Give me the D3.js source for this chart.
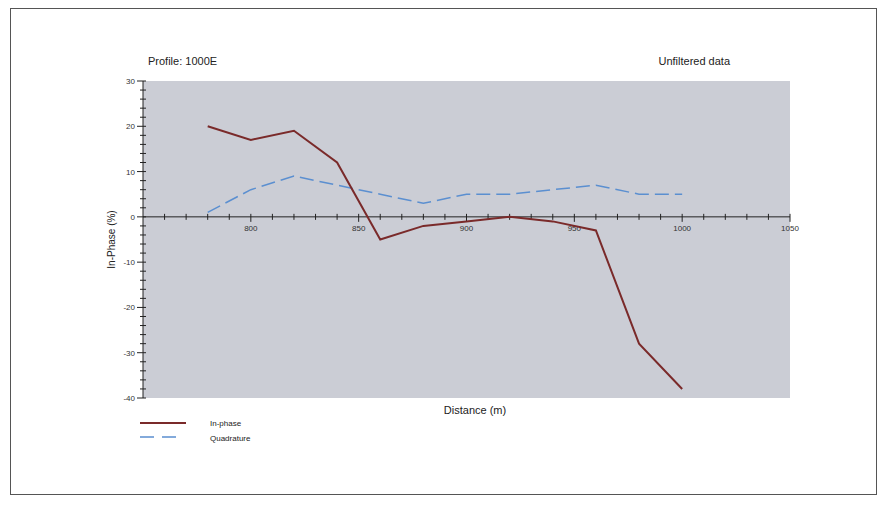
<!DOCTYPE html><html><head><meta charset="utf-8"><script src="https://cdn.jsdelivr.net/npm/d3@7"></script>
<style>body{margin:0;background:#fff;font-family:Arial,"Liberation Sans",sans-serif}</style></head><body><svg id="c" width="886" height="512"></svg>
<script>
const distance=[780,800,820,840,860,880,900,920,940,960,980,1000];
const inPhase=[20,17,19,12,-5,-2,-1,0,-1,-3,-28,-38];
const quadrature=[1,6,9,7,5,3,5,5,6,7,5,5];
const xTicks=[800,850,900,950,1000,1050];
const yTicks=[-40,-30,-20,-10,0,10,20,30];
const svg=d3.select("#c");
svg.append("rect").attr("x",10.5).attr("y",8.5).attr("width",866).attr("height",486).attr("fill","#fff").attr("stroke","#555");
const x=d3.scaleLinear().domain([750,1050]).range([143,790]);
const y=d3.scaleLinear().domain([-40,30]).range([398,81]);
svg.append("rect").attr("x",x(750)).attr("y",y(30)).attr("width",x(1050)-x(750)).attr("height",y(-40)-y(30)).attr("fill","#cbcdd5");
// y axis
const ya=svg.append("g").attr("transform",`translate(${x(750)},0)`);
ya.append("line").attr("y1",y(30)).attr("y2",y(-40)).attr("stroke","#222");
d3.range(-40,31,2).forEach(v=>{const maj=v%10===0;ya.append("line").attr("x1",maj?-6:-3).attr("x2",3).attr("y1",y(v)).attr("y2",y(v)).attr("stroke","#222");});
yTicks.forEach(v=>ya.append("text").attr("x",-8).attr("y",y(v)+3).attr("text-anchor","end").attr("font-size",8).attr("fill","#333").text(v));
// x axis at 0
const xa=svg.append("g").attr("transform",`translate(0,${y(0)})`);
xa.append("line").attr("x1",x(750)).attr("x2",x(1050)).attr("stroke","#222");
d3.range(760,1051,10).forEach(v=>xa.append("line").attr("x1",x(v)).attr("x2",x(v)).attr("y1",-3).attr("y2",v%50===0?5:3).attr("stroke","#222"));
xTicks.forEach(v=>xa.append("text").attr("x",x(v)).attr("y",14).attr("text-anchor","middle").attr("font-size",8).attr("fill","#333").text(v));
const line=d3.line().x((d,i)=>x(distance[i])).y(d=>y(d));
svg.append("path").attr("d",line(quadrature)).attr("fill","none").attr("stroke","#5b8fd0").attr("stroke-width",1.5).attr("stroke-dasharray","14,6");
svg.append("path").attr("d",line(inPhase)).attr("fill","none").attr("stroke","#7a2a2a").attr("stroke-width",2);
svg.append("text").attr("x",148).attr("y",65).attr("font-size",11).attr("fill","#222").text("Profile: 1000E");
svg.append("text").attr("x",730).attr("y",65).attr("text-anchor","end").attr("font-size",11).attr("fill","#222").text("Unfiltered data");
svg.append("text").attr("x",475).attr("y",414).attr("text-anchor","middle").attr("font-size",11).attr("fill","#222").text("Distance (m)");
svg.append("text").attr("transform",`translate(115,${y(-5)}) rotate(-90)`).attr("text-anchor","middle").attr("font-size",10).attr("fill","#222").text("In-Phase (%)");
svg.append("line").attr("x1",140).attr("x2",186).attr("y1",423).attr("y2",423).attr("stroke","#7a2a2a").attr("stroke-width",2);
svg.append("line").attr("x1",140).attr("x2",182).attr("y1",437).attr("y2",437).attr("stroke","#5b8fd0").attr("stroke-width",1.5).attr("stroke-dasharray","14,8");
svg.append("text").attr("x",210).attr("y",426).attr("font-size",8).attr("fill","#222").text("In-phase");
svg.append("text").attr("x",210).attr("y",441).attr("font-size",8).attr("fill","#222").text("Quadrature");
</script></body></html>
